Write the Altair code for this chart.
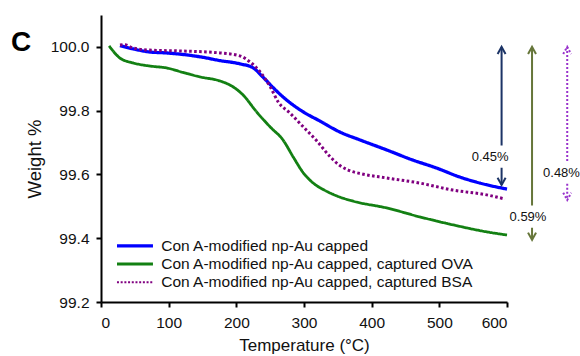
import altair as alt
import pandas as pd

# ---------------- data ----------------
series_names = [
    "Con A-modified np-Au capped",
    "Con A-modified np-Au capped, captured OVA",
    "Con A-modified np-Au capped, captured BSA",
]

blue_t = [28, 47, 72, 97, 146, 176, 205, 225, 239, 255, 274, 299, 324, 353,
          383, 422, 461, 496, 530, 560, 600]
blue_w = [100.004, 99.994, 99.984, 99.981, 99.969, 99.957, 99.947, 99.934,
          99.906, 99.871, 99.834, 99.796, 99.767, 99.733, 99.708, 99.677,
          99.645, 99.620, 99.592, 99.573, 99.554]

green_t = [12, 28, 47, 72, 97, 121, 146, 176, 195, 210, 230, 250, 269, 284,
           299, 313, 330, 348, 373, 422, 471, 520, 570, 600]
green_w = [100.003, 99.965, 99.950, 99.940, 99.934, 99.920, 99.906, 99.893,
           99.875, 99.849, 99.796, 99.749, 99.708, 99.655, 99.605, 99.574,
           99.551, 99.533, 99.516, 99.495, 99.467, 99.442, 99.420, 99.410]

purple_t = [28, 35, 47, 72, 121, 176, 205, 220, 235, 250, 262, 279, 299, 319,
            338, 353, 366, 385, 422, 471, 520, 570, 597]
purple_w = [100.006, 100.007, 99.997, 99.990, 99.987, 99.981, 99.972, 99.953,
            99.922, 99.875, 99.827, 99.793, 99.749, 99.705, 99.657, 99.628,
            99.613, 99.602, 99.589, 99.573, 99.551, 99.536, 99.523]

x_ticks = [0, 100, 200, 300, 400, 500, 600]
y_ticks = [99.2, 99.4, 99.6, 99.8, 100.0]

# weight-loss annotations (arrow from 100 % down to the final weight)
arrow_labels = ["0.45%", "0.59%", "0.48%"]
arrow_top = [100.0, 100.0, 100.0]
arrow_bottom = [99.567, 99.395, 99.520]

# ---------------- layout / style ----------------
FONT = "Liberation Sans"
W, H = 406, 287
x_scale = alt.Scale(domain=[0, 600], nice=False, zero=False)
y_scale = alt.Scale(domain=[99.2, 100.1], nice=False, zero=False)

styles = [
    dict(color="#0000ff", width=3.3, dash=[1, 0]),
    dict(color="#138013", width=2.8, dash=[1, 0]),
    dict(color="#800080", width=3.0, dash=[2.6, 2.4]),
]
legend_styles = [
    dict(color="#0000ff", width=3.3, dash=[1, 0]),
    dict(color="#138013", width=3.0, dash=[1, 0]),
    dict(color="#800080", width=2.0, dash=[2, 1.7]),
]

axis_x = alt.Axis(values=x_ticks, format="d", title="Temperature (\u00b0C)",
                  grid=False, domainColor="black", domainWidth=2,
                  tickColor="black", tickWidth=2, tickSize=5,
                  labelFont=FONT, labelFontSize=15.5, labelColor="#111",
                  labelPadding=8, titleFont=FONT, titleFontSize=17,
                  titleFontWeight="normal", titleColor="#111", titlePadding=7)
axis_y = alt.Axis(values=y_ticks, format=".1f", title="Weight %",
                  grid=False, domainColor="black", domainWidth=2,
                  tickColor="black", tickWidth=2, tickSize=5,
                  labelFont=FONT, labelFontSize=15.5, labelColor="#111",
                  labelPadding=7, titleFont=FONT, titleFontSize=18.5,
                  titleFontWeight="normal", titleColor="#111", titlePadding=6)


def xq(field):
    return alt.X(field, type="quantitative", scale=x_scale, axis=axis_x)


def yq(field):
    return alt.Y(field, type="quantitative", scale=y_scale, axis=axis_y)


layers = []

for i, (name, ts, ws) in enumerate(zip(series_names,
                                       [blue_t, green_t, purple_t],
                                       [blue_w, green_w, purple_w])):
    df = pd.DataFrame({"T": ts, "W": ws, "series": name})
    st = styles[i]
    layers.append(
        alt.Chart(df).mark_line(
            color=st["color"], strokeWidth=st["width"], strokeDash=st["dash"],
            interpolate="monotone", clip=False
        ).encode(x=xq("T"), y=yq("W"))
    )

# legend drawn inside the plot area
leg_x1, leg_x2, leg_tx = 23.6, 76.8, 89
leg_y = [99.376, 99.319, 99.262]
for i, name in enumerate(series_names):
    st = legend_styles[i]
    ldf = pd.DataFrame({"x1": [leg_x1], "x2": [leg_x2], "y": [leg_y[i]],
                        "tx": [leg_tx], "label": [name]})
    layers.append(
        alt.Chart(ldf).mark_rule(color=st["color"], strokeWidth=st["width"],
                                 strokeDash=st["dash"]).encode(
            x=xq("x1"), x2="x2:Q", y=yq("y"))
    )
    layers.append(
        alt.Chart(ldf).mark_text(align="left", baseline="middle", font=FONT,
                                 fontSize=15.5, color="#111").encode(
            x=xq("tx"), y=yq("y"), text="label:N")
    )

# arrows
arrow_x = [592, 637, 689]
label_x = [575, 631, 680.5]
label_y = [99.655, 99.467, 99.605]
arrow_colors = ["#1c3466", "#66763a", "#9933cc"]
arrow_dash = [[1, 0], [1, 0], [2, 2]]
gap_up, gap_dn = 0.036, 0.034
up_path = "M-1,1.8L0,0L1,1.8"
dn_path = "M-1,-1.8L0,0L1,-1.8"
for i in range(3):
    segs = pd.DataFrame({
        "x": [arrow_x[i], arrow_x[i]],
        "y1": [arrow_top[i], label_y[i] - gap_dn],
        "y2": [label_y[i] + gap_up, arrow_bottom[i]],
    })
    layers.append(
        alt.Chart(segs).mark_rule(color=arrow_colors[i], strokeWidth=2,
                                  strokeDash=arrow_dash[i]).encode(
            x=xq("x"), y=yq("y1"), y2="y2:Q")
    )
    heads_up = pd.DataFrame({"x": [arrow_x[i]], "y": [arrow_top[i]]})
    heads_dn = pd.DataFrame({"x": [arrow_x[i]], "y": [arrow_bottom[i]]})
    for hdf, path in [(heads_up, up_path), (heads_dn, dn_path)]:
        layers.append(
            alt.Chart(hdf).mark_point(shape=path, size=64, filled=False,
                                      stroke=arrow_colors[i], strokeWidth=2,
                                      strokeDash=arrow_dash[i], opacity=1).encode(
                x=xq("x"), y=yq("y"))
        )
    tdf = pd.DataFrame({"x": [label_x[i]], "y": [label_y[i]],
                        "t": [arrow_labels[i]]})
    layers.append(
        alt.Chart(tdf).mark_text(font=FONT, fontSize=13, color="#111",
                                 baseline="middle", align="center").encode(
            x=xq("x"), y=yq("y"), text="t:N")
    )

# panel letter
layers.append(
    alt.Chart(pd.DataFrame({"t": ["C"]})).mark_text(
        font=FONT, fontSize=28, fontWeight="bold", color="#000",
        align="left", baseline="middle"
    ).encode(x=alt.value(-90), y=alt.value(28), text="t:N")
)

chart = alt.layer(*layers).properties(
    width=W, height=H,
    autosize=alt.AutoSizeParams(type="none"),
    padding={"left": 101, "top": 15, "right": 73, "bottom": 54},
).configure(background="white").configure_view(stroke=None)

chart.save("out.html", embed_options={"renderer": "svg", "actions": False})
